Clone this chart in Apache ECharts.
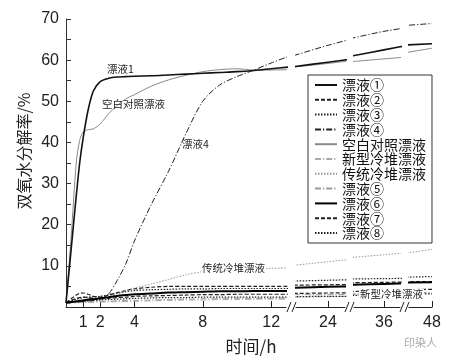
<!DOCTYPE html>
<html><head><meta charset="utf-8">
<script src="https://cdn.jsdelivr.net/npm/echarts@6/dist/echarts.min.js"></script>
<style>html,body{margin:0;padding:0;background:#fff}#c{width:456px;height:362px}</style>
</head><body><div id="c"></div>
<script>
// time points (h)
const hours = [0,0.3,0.6,0.8,1,1.3,1.6,2,2.5,3,3.5,4,5,6,7,8,9,10,11,12,13,22,24,26,34,36,38,46,48];
// x tick labels per axis segment
const xTickSeg = [[1,2,4,8,12],[24],[36],[48]];
// visible hour range of each broken axis segment
const segments = [[0,12.87],[22.13,25],[34.25,36.94],[46.65,48]];
const yTicks = [10,20,30,40,50,60,70];

const bleach1   = [1,14,27,35,41,48,52.5,54.8,55.6,55.9,56,56.1,56.2,56.4,56.6,56.8,57,57.2,57.5,57.9,58.3,58.4,59.5,60.6,60.9,62.5,64.1,63.6,64.0];
const bleach2   = [1,2,2.9,3.3,3.4,3.1,2.6,2.4,2.9,3.5,4.0,4.4,4.8,5.0,5.0,5.0,5.0,5.0,5.0,5.0,5.0,5.3,5.4,5.5,5.9,6.0,6.1,6.1,6.2];
const bleach3   = [1,1.5,1.9,2.1,2.3,2.4,2.5,2.6,3.0,3.4,3.7,4.0,4.2,4.3,4.4,4.4,4.5,4.5,4.5,4.5,4.5,6.3,6.5,6.7,6.8,6.9,7.0,7.2,7.4];
const bleach4   = [1,1.1,1.2,1.3,1.4,1.5,1.6,1.8,3.2,6.5,10.5,16,25,33,42,50,54,56,57.6,59.3,60.9,61.1,63.6,65.8,65.2,67.0,68.3,68.3,68.9];
const blank     = [1,17,35,40.5,42.5,43.1,43.3,44.5,47,49,50.6,51.6,53.7,55.2,56.3,57.2,57.7,57.9,57.6,57.6,57.7,58.3,59.2,60.2,59.6,60.3,61.0,61.5,62.9];
const newCold   = [1,1.0,1.0,1.05,1.1,1.1,1.15,1.2,1.25,1.3,1.35,1.4,1.5,1.6,1.7,1.7,1.8,1.8,1.9,1.9,1.9,2.4,2.5,2.6,3.0,3.1,3.2,3.3,3.4];
const oldCold   = [1,1.1,1.3,1.4,1.5,1.6,1.7,1.9,2.5,3.2,4.0,4.6,5.6,6.7,7.8,8.6,9.0,9.2,9.3,9.4,9.5,10.15,11.0,11.9,12.0,12.7,13.4,12.8,14.0];
const bleach5   = [1,1.05,1.1,1.15,1.2,1.25,1.3,1.35,1.4,1.5,1.6,1.6,1.7,1.8,1.9,2.0,2.0,2.1,2.1,2.1,2.2,3.0,3.0,3.1,3.2,3.3,3.3,3.4,3.5];
const bleach6   = [1,1.2,1.4,1.5,1.6,1.8,1.9,2.1,2.4,2.7,2.9,3.1,3.3,3.5,3.6,3.7,3.8,3.8,3.9,3.9,3.9,4.7,4.9,5.1,5.4,5.6,5.8,5.9,6.0];
const bleach7   = [1,1.6,2.1,2.3,2.4,2.3,2.1,2.0,2.1,2.3,2.4,2.6,2.7,2.8,2.9,3.0,3.0,3.1,3.1,3.1,3.1,3.3,3.4,3.5,3.8,3.9,4.0,4.2,4.3];
const bleach8   = [1,1.1,1.2,1.3,1.4,1.5,1.6,1.7,1.8,1.9,2.0,2.1,2.2,2.3,2.3,2.4,2.4,2.4,2.4,2.4,2.4,2.5,2.6,2.6,2.8,2.9,3.0,3.1,3.2];

const names = ['漂液①','漂液②','漂液③','漂液④','空白对照漂液','新型冷堆漂液','传统冷堆漂液','漂液⑤','漂液⑥','漂液⑦','漂液⑧'];
const values = [bleach1,bleach2,bleach3,bleach4,blank,newCold,oldCold,bleach5,bleach6,bleach7,bleach8];

const DOT=[1.5,1.5], DASH=[4,2], DASHDOT=[6,2,1.2,2];
const styles = [
  {color:'#111',width:1.6,type:'solid'},
  {color:'#222',width:1.2,type:DASH},
  {color:'#222',width:1.2,type:DOT},
  {color:'#222',width:1,type:DASHDOT},
  {color:'#888',width:1,type:'solid'},
  {color:'#aaa',width:1,type:DASHDOT},
  {color:'#999',width:1,type:DOT},
  {color:'#999',width:1,type:DASHDOT},
  {color:'#000',width:2,type:'solid'},
  {color:'#222',width:1.2,type:DASH},
  {color:'#222',width:1.2,type:DOT}
];

const FONT = "'Liberation Sans','Noto Sans CJK SC',sans-serif";
const CJK = "'Noto Sans CJK SC',sans-serif";
const gridLeft=[66,296,354,409], gridWidth=[220,49,46,23];

const grids=[], xAxes=[], yAxes=[], series=[];
segments.forEach((seg,g)=>{
  grids.push({left:gridLeft[g], width:gridWidth[g], top:19, height:288});
  xAxes.push({type:'value', gridIndex:g, min:seg[0], max:seg[1],
    axisLine:{show:true,onZero:false,lineStyle:{color:'#222',width:1}},
    axisTick:{show:true,inside:true,length:6,customValues:xTickSeg[g],lineStyle:{color:'#222'}},
    axisLabel:{show:true,customValues:xTickSeg[g],fontSize:16,color:'#222',fontFamily:FONT,margin:8},
    splitLine:{show:false}});
  yAxes.push({type:'value', gridIndex:g, min:0, max:70, interval:5, show:g===0,
    name: g===0?'双氧水分解率/%':'', nameLocation:'middle', nameRotate:90, nameGap:34,
    nameTextStyle:{fontSize:16,color:'#222',fontFamily:CJK,padding:[0,0,0,24]},
    axisLine:{show:true,lineStyle:{color:'#333'}},
    axisTick:{show:true,inside:true,length:5,lineStyle:{color:'#333'}},
    axisLabel:{fontSize:16,color:'#222',fontFamily:FONT,margin:7,
      formatter:v=> (v>0 && v%10===0)? String(v):''},
    splitLine:{show:false}});
  names.forEach((n,i)=>{
    const data=[];
    hours.forEach((h,k)=>{ if(h>=seg[0]-2.1 && h<=seg[1]+2.1) data.push([h,values[i][k]]); });
    series.push({type:'line', name:n, xAxisIndex:g, yAxisIndex:g, data:data,
      smooth:0.3, symbol:'none', showSymbol:false, clip:true, silent:true,
      lineStyle:styles[i], itemStyle:{color:styles[i].color}, z: i===0||i===8?3:2});
  });
});

function brk(x){
  return [
    {type:'line',shape:{x1:x+1,y1:312,x2:x+5,y2:302},style:{stroke:'#222',lineWidth:1},z:10},
    {type:'line',shape:{x1:x+6,y1:312,x2:x+10,y2:302},style:{stroke:'#222',lineWidth:1},z:10}
  ];
}
function note(text,x,y,bg){
  return {type:'text',x:x,y:y,z:20,style:{text:text,fill:'#222',font:'10.5px '+CJK,
    textVerticalAlign:'middle',backgroundColor:bg?'#fff':null,padding:bg?[0,1]:0}};
}

const option={
  animation:false,
  grid:grids, xAxis:xAxes, yAxis:yAxes, series:series,
  legend:{orient:'vertical',left:308,top:75,data:names,itemWidth:22,itemHeight:14,itemGap:0.8,
    padding:[3,6,3,6],borderColor:'#333',borderWidth:1,backgroundColor:'#fff',
    itemStyle:{opacity:0,borderWidth:0},
    textStyle:{fontSize:14,lineHeight:14,color:'#111',fontFamily:CJK},selectedMode:false},
  graphic:[].concat(brk(286),brk(344),brk(399),[
    note('漂液1',107,69),
    note('空白对照漂液',102,104),
    note('漂液4',182,144),
    note('传统冷堆漂液',201,268,true),
    note('新型冷堆漂液',359,294,true),
    {type:'text',x:251,y:347,z:20,style:{text:'时间/h',fill:'#222',font:'17px '+CJK,textAlign:'center',textVerticalAlign:'middle'}},
    {type:'text',x:404,y:343,z:20,style:{text:'印染人',fill:'#aaa',font:'11px '+CJK,textVerticalAlign:'middle'}}
  ])
};
const chart=echarts.init(document.getElementById('c'),null,{renderer:'canvas'});
chart.setOption(option);
</script></body></html>
